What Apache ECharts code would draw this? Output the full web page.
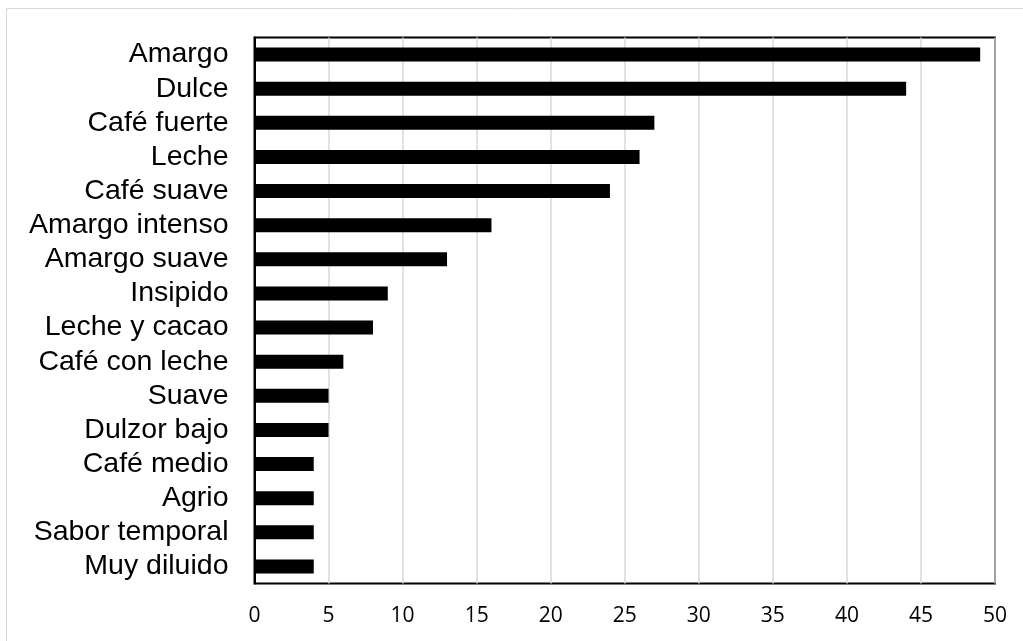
<!DOCTYPE html>
<html><head><meta charset="utf-8">
<script src="https://cdn.jsdelivr.net/npm/echarts@6/dist/echarts.min.js"></script>
<style>html,body{margin:0;padding:0;background:#fff}#c{width:1023px;height:641px}</style>
</head><body><div id="c"></div>
<script>
const categories = ["Amargo","Dulce","Café fuerte","Leche","Café suave","Amargo intenso","Amargo suave","Insipido","Leche y cacao","Café con leche","Suave","Dulzor bajo","Café medio","Agrio","Sabor temporal","Muy diluido"];
const values = [49,44,27,26,24,16,13,9,8,6,5,5,4,4,4,4];
const xTicks = {min:0,max:50,interval:5};
const chart = echarts.init(document.getElementById('c'), null, {renderer:'canvas'});
chart.setOption({
  animation:false,
  backgroundColor:'#fff',
  graphic:[{type:'rect',shape:{x:6.5,y:8.5,width:1030,height:650},style:{fill:'none',stroke:'#d9d9d9',lineWidth:1},z:-1}],
  grid:{left:254.5,right:28,top:37.5,bottom:57.5,show:true,borderColor:'#000',borderWidth:2,backgroundColor:'transparent'},
  xAxis:{type:'value',min:xTicks.min,max:xTicks.max,interval:xTicks.interval,
    axisLine:{show:false},axisTick:{show:false},
    splitLine:{show:true,lineStyle:{color:'#d9d9d9',width:1.5}},
    axisLabel:{color:'#000',fontFamily:'Open Sans',fontSize:21,margin:22}},
  yAxis:{type:'category',data:categories,inverse:true,
    axisLine:{show:true,lineStyle:{color:'#000',width:2}},axisTick:{show:false},
    axisLabel:{color:'#000',fontFamily:'Liberation Sans',fontSize:28.5,margin:26,interval:0,hideOverlap:false}},
  series:[{type:'bar',data:values,barWidth:14,itemStyle:{color:'#000'}}]
});
</script></body></html>
